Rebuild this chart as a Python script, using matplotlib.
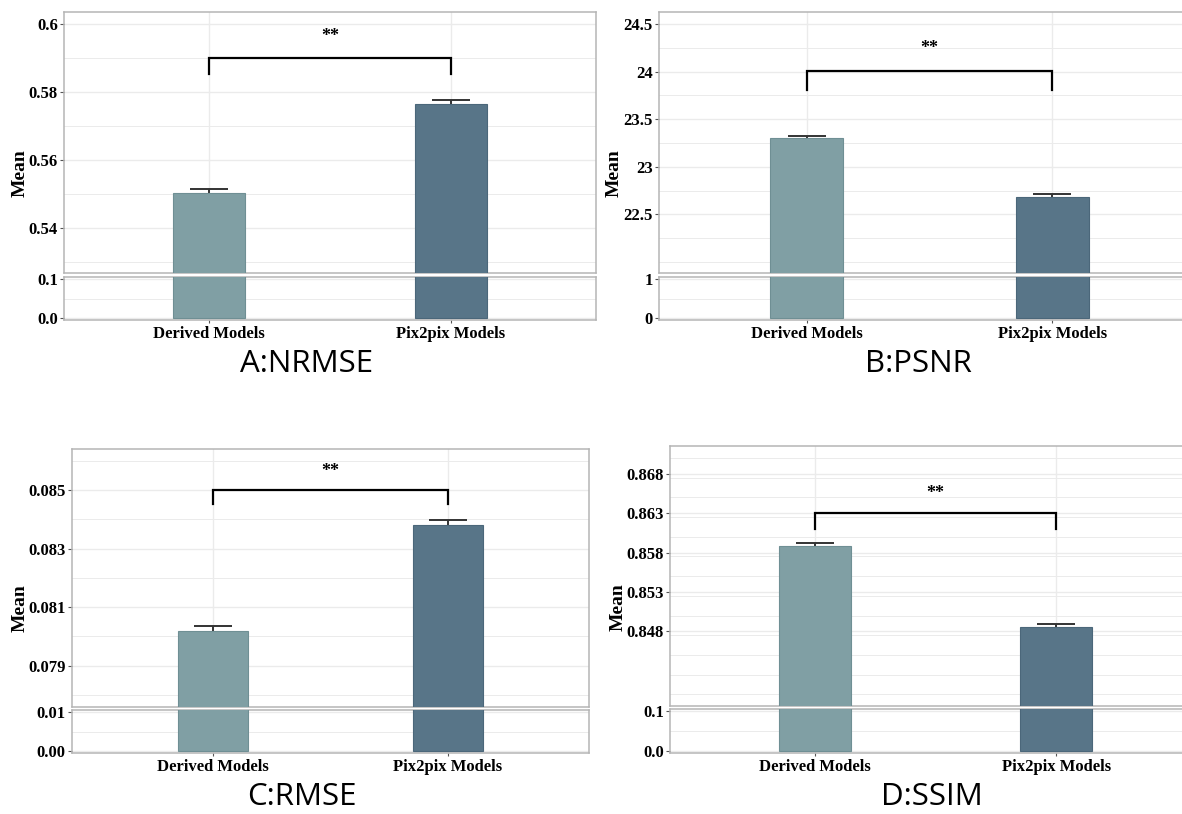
import matplotlib
matplotlib.use("Agg")
import matplotlib.pyplot as plt
import numpy as np

# ---------------- data ----------------
categories = ["Derived Models", "Pix2pix Models"]
panel_titles = ["A:NRMSE", "B:PSNR", "C:RMSE", "D:SSIM"]

nrmse_mean = [0.5502, 0.5763]
nrmse_err = [0.0012, 0.0013]
psnr_mean = [23.305, 22.685]
psnr_err = [0.021, 0.025]
rmse_mean = [0.08019, 0.08379]
rmse_err = [0.00017, 0.00018]
ssim_mean = [0.85883, 0.84858]
ssim_err = [0.00038, 0.00038]

sig_label = "**"

nrmse_ticks = [0.54, 0.56, 0.58, 0.60]
nrmse_ticklabels = ["0.54", "0.56", "0.58", "0.6"]
psnr_ticks = [22.5, 23.0, 23.5, 24.0, 24.5]
psnr_ticklabels = ["22.5", "23", "23.5", "24", "24.5"]
rmse_ticks = [0.079, 0.081, 0.083, 0.085]
rmse_ticklabels = ["0.079", "0.081", "0.083", "0.085"]
ssim_ticks = [0.848, 0.853, 0.858, 0.863, 0.868]
ssim_ticklabels = ["0.848", "0.853", "0.858", "0.863", "0.868"]

low_ticks_a = [0.0, 0.1]; low_labels_a = ["0.0", "0.1"]
low_ticks_b = [0, 1]; low_labels_b = ["0", "1"]
low_ticks_c = [0.0, 0.01]; low_labels_c = ["0.00", "0.01"]
low_ticks_d = [0.0, 0.1]; low_labels_d = ["0.0", "0.1"]

# ---------------- style / layout ----------------
W, H = 1182, 814
bar_colors = ["#809fa4", "#587588"]
edge_colors = ["#6f8f94", "#4b677a"]
grid_col = "#ebebeb"
border_col = "#b5b5b5"
serif = ["Liberation Serif", "DejaVu Serif"]
title_font = ["Open Sans", "DejaVu Sans"]

def frac(l, r, t, b):
    return [l / W, 1 - b / H, (r - l) / W, (b - t) / H]

panels = [
    dict(mean=nrmse_mean, err=nrmse_err, ticks=nrmse_ticks, tlabels=nrmse_ticklabels,
         grid_step=0.01, ylim=(0.5268, 0.6034), lticks=low_ticks_a, llabels=low_labels_a,
         lylim=(-0.005, 0.105), box=(64, 596, 12, 273, 277, 320),
         br=0.5900, tip=0.5851, star=0.5961, title_xy=(307, 372), ylab_xy=(20, 173)),
    dict(mean=psnr_mean, err=psnr_err, ticks=psnr_ticks, tlabels=psnr_ticklabels,
         grid_step=0.25, ylim=(21.883, 24.626), lticks=low_ticks_b, llabels=low_labels_b,
         lylim=(-0.05, 1.05), box=(659, 1200, 12, 273, 277, 320),
         br=24.009, tip=23.81, star=24.245, title_xy=(918, 372), ylab_xy=(614, 173)),
    dict(mean=rmse_mean, err=rmse_err, ticks=rmse_ticks, tlabels=rmse_ticklabels,
         grid_step=0.001, ylim=(0.07759, 0.0864), lticks=low_ticks_c, llabels=low_labels_c,
         lylim=(-0.0005, 0.0105), box=(72, 589, 449, 707, 710, 753),
         br=0.0850, tip=0.08452, star=0.08563, title_xy=(302, 805), ylab_xy=(20, 608)),
    dict(mean=ssim_mean, err=ssim_err, ticks=ssim_ticks, tlabels=ssim_ticklabels,
         grid_step=0.0025, ylim=(0.83852, 0.87152), lticks=low_ticks_d, llabels=low_labels_d,
         lylim=(-0.005, 0.105), box=(670, 1201, 446, 706, 709, 753),
         br=0.86305, tip=0.8610, star=0.8655, title_xy=(932, 805), ylab_xy=(618, 607)),
]

fig = plt.figure(figsize=(W / 100, H / 100), dpi=100)
fig.patch.set_facecolor("white")

x = np.arange(len(categories))
bar_w = 0.3

def style_axis(ax):
    for s in ax.spines.values():
        s.set_color(border_col)
        s.set_linewidth(1.1)
    ax.tick_params(axis="y", which="major", length=3, width=0.8, color="#555555",
                   pad=1.5, labelsize=12)
    ax.tick_params(axis="y", which="minor", length=0)
    for lab in ax.get_yticklabels():
        lab.set_fontfamily(serif)
        lab.set_fontweight("bold")
    ax.set_xlim(-0.6, 1.6)
    ax.set_facecolor("white")

for i, p in enumerate(panels):
    l, r, t, b, lt, lb = p["box"]
    ax_u = fig.add_axes(frac(l, r, t, b))
    ax_l = fig.add_axes(frac(l, r, lt, lb))

    for ax, lim in ((ax_u, p["ylim"]), (ax_l, p["lylim"])):
        ax.set_axisbelow(True)
        ax.bar(x, p["mean"], width=bar_w, color=bar_colors, edgecolor=edge_colors,
               linewidth=0.8, zorder=3)
        ax.errorbar(x, p["mean"], yerr=p["err"], fmt="none", ecolor="#333333",
                    elinewidth=1.4, capsize=14, capthick=1.4, zorder=2)
        ax.set_ylim(*lim)
        ax.set_xticks(x)
        ax.xaxis.grid(True, color=grid_col, linewidth=1.0)

    # upper grid
    step = p["grid_step"]
    lo, hi = p["ylim"]
    gvals = np.arange(np.ceil(lo / step - 1e-6) * step, hi + 1e-12, step)
    minor = [g for g in gvals if min(abs(g - tk) for tk in p["ticks"]) > step * 0.1]
    ax_u.set_yticks(p["ticks"])
    ax_u.set_yticklabels(p["tlabels"])
    ax_u.set_yticks(minor, minor=True)
    ax_u.yaxis.grid(True, which="major", color=grid_col, linewidth=1.0)
    ax_u.yaxis.grid(True, which="minor", color=grid_col, linewidth=0.7)
    ax_u.tick_params(axis="x", length=0, labelbottom=False)

    # lower grid
    ax_l.set_yticks(p["lticks"])
    ax_l.set_yticklabels(p["llabels"])
    ax_l.set_yticks([(p["lticks"][0] + p["lticks"][1]) / 2], minor=True)
    ax_l.yaxis.grid(True, which="major", color=grid_col, linewidth=1.0)
    ax_l.yaxis.grid(True, which="minor", color=grid_col, linewidth=0.7)
    ax_l.set_xticklabels(categories)
    ax_l.tick_params(axis="x", length=2.5, width=0.8, color="#555555", pad=1.5, labelsize=12)
    for lab in ax_l.get_xticklabels():
        lab.set_fontfamily(serif)
        lab.set_fontweight("bold")

    style_axis(ax_u)
    style_axis(ax_l)

    # significance bracket
    ax_u.plot([x[0], x[0], x[1], x[1]], [p["tip"], p["br"], p["br"], p["tip"]],
              color="black", linewidth=1.6, zorder=5, solid_joinstyle="miter")
    ax_u.text((x[0] + x[1]) / 2, p["star"], sig_label, ha="center", va="center",
              fontsize=13, fontweight="bold", family=serif, zorder=6)

    # y label
    yx, yy = p["ylab_xy"]
    fig.text(yx / W, 1 - yy / H, "Mean", rotation=90, ha="center", va="center",
             fontsize=14, fontweight="bold", family=serif)
    # panel title
    tx, ty = p["title_xy"]
    fig.text(tx / W, 1 - ty / H, panel_titles[i], ha="center", va="baseline",
             fontsize=22.5, family=title_font)

fig.savefig("out.png", dpi=100, facecolor="white")
